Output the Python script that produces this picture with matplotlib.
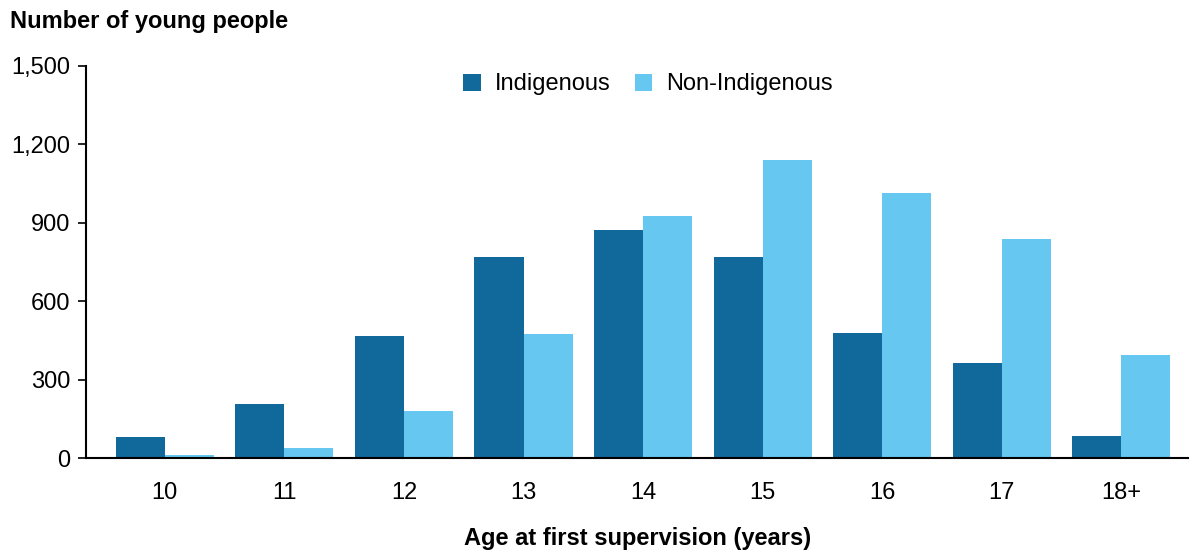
import numpy as np
import matplotlib
matplotlib.use('Agg')
import matplotlib.pyplot as plt

plt.rcParams['font.family'] = ['Liberation Sans', 'DejaVu Sans']

ages = ['10', '11', '12', '13', '14', '15', '16', '17', '18+']
indigenous = [80, 207, 467, 769, 872, 769, 478, 364, 84]
non_indigenous = [12, 38, 180, 475, 926, 1140, 1014, 838, 394]

dark = '#11689b'
light = '#66c7f0'

fig = plt.figure(figsize=(11.92, 5.54), dpi=100)
ax = fig.add_axes([0.072, 0.173, 0.925, 0.708])

x = np.arange(len(ages))
w = 0.41
ax.bar(x - w / 2, indigenous, width=w, color=dark, label='Indigenous')
ax.bar(x + w / 2, non_indigenous, width=w, color=light, label='Non-Indigenous')

ax.set_xlim(-0.66, 8.56)
ax.set_ylim(0, 1500)
ax.set_yticks([0, 300, 600, 900, 1200, 1500])
ax.set_yticklabels(['0', '300', '600', '900', '1,200', '1,500'])
ax.set_xticks(x)
ax.set_xticklabels(ages)
ax.tick_params(axis='x', length=0, pad=17, labelsize=17)
ax.tick_params(axis='y', length=6, width=1.2, pad=5, labelsize=17)

for s in ['top', 'right']:
    ax.spines[s].set_visible(False)
for s in ['left', 'bottom']:
    ax.spines[s].set_linewidth(1.5)

ax.legend(loc='upper center', bbox_to_anchor=(0.51, 1.035), ncol=2, frameon=False,
          fontsize=17, handlelength=0.75, handleheight=0.75, handletextpad=0.6,
          columnspacing=1.0)

fig.text(0.008, 0.961, 'Number of young people', fontsize=17, fontweight='bold',
         ha='left', va='center')
ax.set_xlabel('Age at first supervision (years)', fontsize=17, fontweight='bold',
              labelpad=17)

fig.savefig('out.png', dpi=100)
